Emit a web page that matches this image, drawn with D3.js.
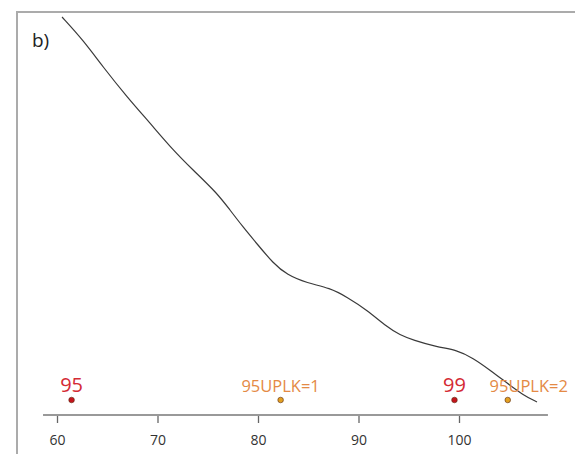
<!DOCTYPE html>
<html lang="en">
<head>
    <meta charset="UTF-8">
    <title>Density b)</title>
    <script src="https://d3js.org/d3.v7.min.js"></script>
    <style>
        body { margin: 0; background: #fff; }
        svg { display: block; font-family: "Open Sans", "Noto Sans", sans-serif; }
    </style>
</head>
<body>
    <svg width="575" height="454"></svg>
    <script>
        // curve (x value, relative density)
        const curveX = [60.45, 62.54, 64.53, 66.92, 69.2, 71.49, 73.48, 75.87, 77.16, 78.46,
            79.95, 81.44, 82.84, 84.83, 87.11, 88.8, 90.8, 92.79, 94.08, 95.37,
            97.76, 99.75, 101.34, 103.03, 104.72, 106.32, 107.71];
        const curveY = [99.5, 93.75, 87, 79.5, 73, 66.25, 61.25, 55.5, 51.25, 47,
            42.5, 38, 35, 33, 31.75, 29.5, 26.25, 22, 20, 18.75,
            17, 16.25, 14.25, 11.25, 8, 5, 3.25];

        const pointLabels = ["95", "95UPLK=1", "99", "95UPLK=2"];
        const pointX = [61.4, 82.2, 99.5, 104.8];
        const pointGroup = ["main", "uplk", "main", "uplk"];
        const tickValues = [60, 70, 80, 90, 100];
        const axisExtent = [58.56, 108.8];

        const svg = d3.select("svg");

        // panel frame (runs off the right and bottom edges)
        svg.append("rect")
            .attr("x", 17).attr("y", 12)
            .attr("width", 600).attr("height", 500)
            .attr("fill", "none")
            .attr("stroke", "#ababab")
            .attr("stroke-width", 2);

        svg.append("text")
            .attr("x", 32).attr("y", 47)
            .attr("font-size", 19)
            .attr("fill", "#222")
            .text("b)");

        const x = d3.scaleLinear().domain([60, 100]).range([57.5, 459.5]);
        const y = d3.scaleLinear().domain([0, 100]).range([415, 15]);

        // axis
        const axisG = svg.append("g");
        axisG.append("line")
            .attr("x1", x(axisExtent[0])).attr("x2", x(axisExtent[1]))
            .attr("y1", 415).attr("y2", 415)
            .attr("stroke", "#777").attr("stroke-width", 1.5);
        axisG.selectAll(".tick")
            .data(tickValues)
            .enter()
            .append("line")
            .attr("x1", d => x(d)).attr("x2", d => x(d))
            .attr("y1", 416).attr("y2", 423)
            .attr("stroke", "#666").attr("stroke-width", 1.3);
        axisG.selectAll(".lab")
            .data(tickValues)
            .enter()
            .append("text")
            .attr("x", d => x(d)).attr("y", 445)
            .attr("text-anchor", "middle")
            .attr("font-size", 14)
            .attr("fill", "#333")
            .text(d => d);

        // density curve
        const line = d3.line()
            .x(d => x(d[0]))
            .y(d => y(d[1]))
            .curve(d3.curveBasis);
        svg.append("path")
            .datum(curveX.map((v, i) => [v, curveY[i]]))
            .attr("d", line)
            .attr("fill", "none")
            .attr("stroke", "#3a3a3a")
            .attr("stroke-width", 1.2);

        // marked points
        const fillCol = { main: "#c4141c", uplk: "#e3a020" };
        const textCol = { main: "#d42a34", uplk: "#e48a45" };
        const labelSize = { main: 20, uplk: 16.5 };
        const labelShift = [0, 0, 0, 21];
        const pts = pointLabels.map((l, i) => ({ label: l, x: pointX[i], g: pointGroup[i], dx: labelShift[i] }));

        svg.selectAll(".pt")
            .data(pts)
            .enter()
            .append("circle")
            .attr("cx", d => x(d.x)).attr("cy", y(3.75))
            .attr("r", 2.8)
            .attr("fill", d => fillCol[d.g])
            .attr("stroke", "#5a2a10").attr("stroke-width", 0.6);

        svg.selectAll(".ptlab")
            .data(pts)
            .enter()
            .append("text")
            .attr("x", d => x(d.x) + d.dx)
            .attr("y", 392)
            .attr("text-anchor", "middle")
            .attr("font-size", d => labelSize[d.g])
            .attr("fill", d => textCol[d.g])
            .text(d => d.label);
    </script>
</body>
</html>
